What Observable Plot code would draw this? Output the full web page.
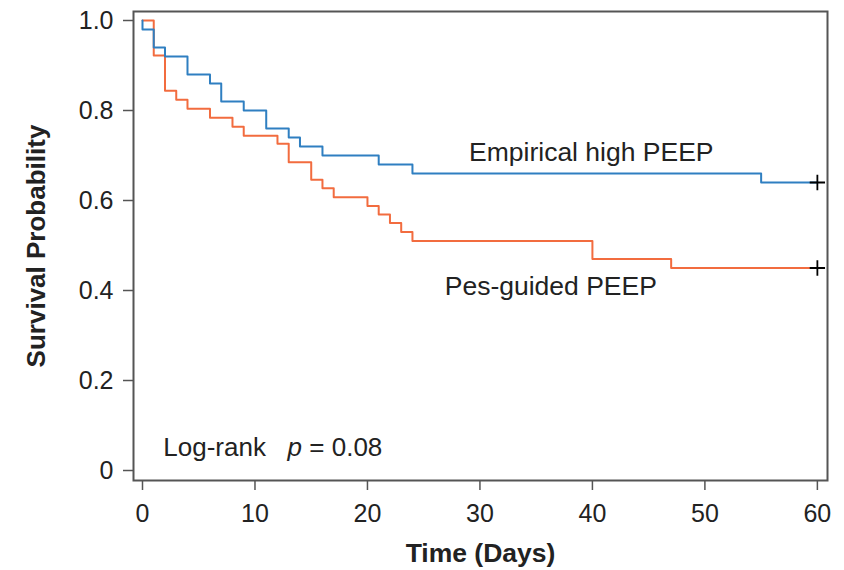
<!DOCTYPE html>
<html>
<head>
<meta charset="utf-8">
<script src="https://cdn.jsdelivr.net/npm/d3@7"></script>
<script src="https://cdn.jsdelivr.net/npm/@observablehq/plot@0.6"></script>
<style>
  html, body { margin: 0; padding: 0; background: #fff; }
  #chart svg { display: block; }
</style>
</head>
<body>
<div id="chart"></div>
<script>
// Empirical high PEEP (blue)
const empTime = [0, 0, 1, 2, 4, 6, 7, 9, 11, 13, 14, 16, 21, 24, 55, 60];
const empSurv = [1.0, 0.98, 0.94, 0.92, 0.88, 0.86, 0.82, 0.80, 0.76, 0.74, 0.72, 0.70, 0.68, 0.66, 0.64, 0.64];
// Pes-guided PEEP (orange)
const pesTime = [0, 1, 2, 3, 4, 6, 8, 9, 12, 13, 15, 16, 17, 20, 21, 22, 23, 24, 40, 47, 60];
const pesSurv = [1.0, 0.922, 0.844, 0.824, 0.804, 0.784, 0.764, 0.744, 0.726, 0.685, 0.646, 0.627, 0.607, 0.588, 0.569, 0.55, 0.53, 0.51, 0.47, 0.45, 0.45];
// censored at end of follow-up
const censorTime = [60, 60];
const censorSurv = [0.64, 0.45];

const xTicks = [0, 10, 20, 30, 40, 50, 60];
const yTicks = [0, 0.2, 0.4, 0.6, 0.8, 1.0];

const groupLabels = ["Empirical high PEEP", "Pes-guided PEEP"];
const labelX = [39.9, 36.3];
const labelY = [0.687, 0.39];

const blue = "#2f7fc1";
const orange = "#f26c3f";

const emp = empTime.map((t, i) => ({t, s: empSurv[i]}));
const pes = pesTime.map((t, i) => ({t, s: pesSurv[i]}));
const cens = censorTime.map((t, i) => ({t, s: censorSurv[i]}));
const labels = groupLabels.map((g, i) => ({g, x: labelX[i], y: labelY[i]}));

const chart = Plot.plot({
  width: 844,
  height: 570,
  marginLeft: 133,
  marginRight: 17,
  marginTop: 11,
  marginBottom: 90,
  style: {fontFamily: "'Liberation Sans', Arial, sans-serif", background: "#fff", color: "#222"},
  x: {domain: [-0.8, 60.9]},
  y: {domain: [-0.0222, 1.02]},
  marks: [
    Plot.axisY({ticks: yTicks, tickFormat: d => d === 0 ? "0" : d.toFixed(1), tickSize: 10, tickPadding: 10, fontSize: 25, stroke: "#555", strokeWidth: 1.5, fill: "#222", label: null}),
    Plot.axisX({ticks: xTicks, tickSize: 10, tickPadding: 14, fontSize: 25, stroke: "#555", strokeWidth: 1.5, fill: "#222", label: null}),
    Plot.line(pes, {x: "t", y: "s", curve: "step-after", stroke: orange, strokeWidth: 2}),
    Plot.line(emp, {x: "t", y: "s", curve: "step-after", stroke: blue, strokeWidth: 2}),
    Plot.dot(cens, {x: "t", y: "s", symbol: "plus", r: 5, stroke: "#000", strokeWidth: 1.8}),
    Plot.text(labels, {x: "x", y: "y", text: "g", fontSize: 26.5, textAnchor: "middle", lineAnchor: "bottom", fill: "#222"}),
    Plot.text(["Log-rank  p = 0.08"], {x: 1.85, y: 0.033, text: d => d, fontSize: 26, textAnchor: "start", lineAnchor: "bottom", fill: "#222"}),
    Plot.text(["Time (Days)"], {frameAnchor: "bottom", dy: 81, text: d => d, fontSize: 26.5, fontWeight: "bold", fill: "#222", textAnchor: "middle", lineAnchor: "bottom"}),
    Plot.text(["Survival Probability"], {frameAnchor: "left", dx: -97, rotate: -90, text: d => d, fontSize: 26, fontWeight: "bold", fill: "#222", textAnchor: "middle", lineAnchor: "middle"}),
    Plot.frame({stroke: "#555", strokeWidth: 2})
  ]
});

document.getElementById("chart").appendChild(chart);

// italic p in the log-rank annotation
d3.select(chart).selectAll("text").each(function() {
  if (this.textContent === "Log-rank  p = 0.08") {
    const el = d3.select(this);
    el.text(null);
    el.append("tspan").text("Log-rank\u00a0\u00a0\u00a0");
    el.append("tspan").attr("font-style", "italic").text("p");
    el.append("tspan").text(" = 0.08");
  }
});
</script>
</body>
</html>
